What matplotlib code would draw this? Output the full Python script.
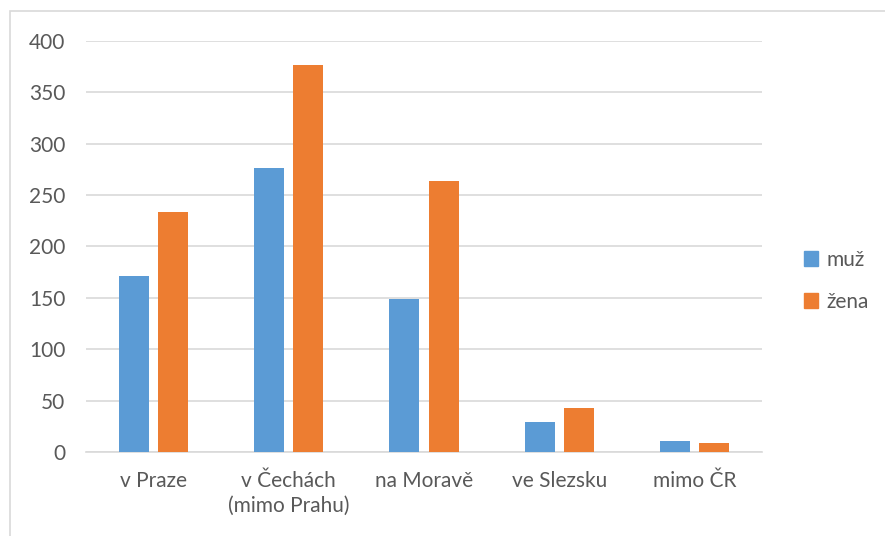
import matplotlib
matplotlib.use("Agg")
import matplotlib.pyplot as plt
import numpy as np
from matplotlib.patches import Rectangle, Patch

categories = ["v Praze", "v Čechách\n(mimo Prahu)", "na Moravě", "ve Slezsku", "mimo ČR"]
muz = [171, 276, 149, 29, 11]
zena = [234, 377, 264, 43, 9]
series_names = ["muž", "žena"]
yticks = [0, 50, 100, 150, 200, 250, 300, 350, 400]

plt.rcParams['font.family'] = ['Lato', 'DejaVu Sans']
text_color = "#595959"
grid_color = "#d9d9d9"
fs = 15

fig = plt.figure(figsize=(8.85, 5.36), dpi=100)
fig.patches.append(Rectangle((10/885, -0.1), 1.2, 1.1 - 11/536, transform=fig.transFigure,
                             fill=False, edgecolor=grid_color, linewidth=1.2))
ax = fig.add_axes([86/885, 1 - 452/536, (762-86)/885, (452-41)/536])

x = np.arange(len(categories))
w = 30/135
off = 39/135/2
ax.bar(x - off, muz, w, color="#5B9BD5", label=series_names[0], zorder=3)
ax.bar(x + off, zena, w, color="#ED7D31", label=series_names[1], zorder=3)

ax.set_xlim(-0.5, len(categories) - 0.5)
ax.set_ylim(0, 400)
ax.set_yticks(yticks)
ax.set_yticklabels([str(v) for v in yticks])
ax.set_xticks(x)
ax.set_xticklabels(categories, linespacing=1.3)
ax.yaxis.grid(True, color=grid_color, linewidth=1.2, zorder=0)
ax.set_axisbelow(True)
for s in ["top", "right", "left"]:
    ax.spines[s].set_visible(False)
ax.spines["bottom"].set_color(grid_color)
ax.spines["bottom"].set_linewidth(1.2)
ax.tick_params(axis="both", length=0, labelsize=fs, colors=text_color)
ax.tick_params(axis="y", pad=15)
ax.tick_params(axis="x", pad=14)

handles = [Patch(color="#5B9BD5"), Patch(color="#ED7D31")]
fig.legend(handles, series_names, loc="upper left", bbox_to_anchor=(785/885, 1 - 231/536),
           frameon=False, fontsize=fs, labelcolor=text_color, handlelength=0.7,
           handleheight=0.7, handletextpad=0.4, labelspacing=1.05)

fig.savefig("out.png", dpi=100)
